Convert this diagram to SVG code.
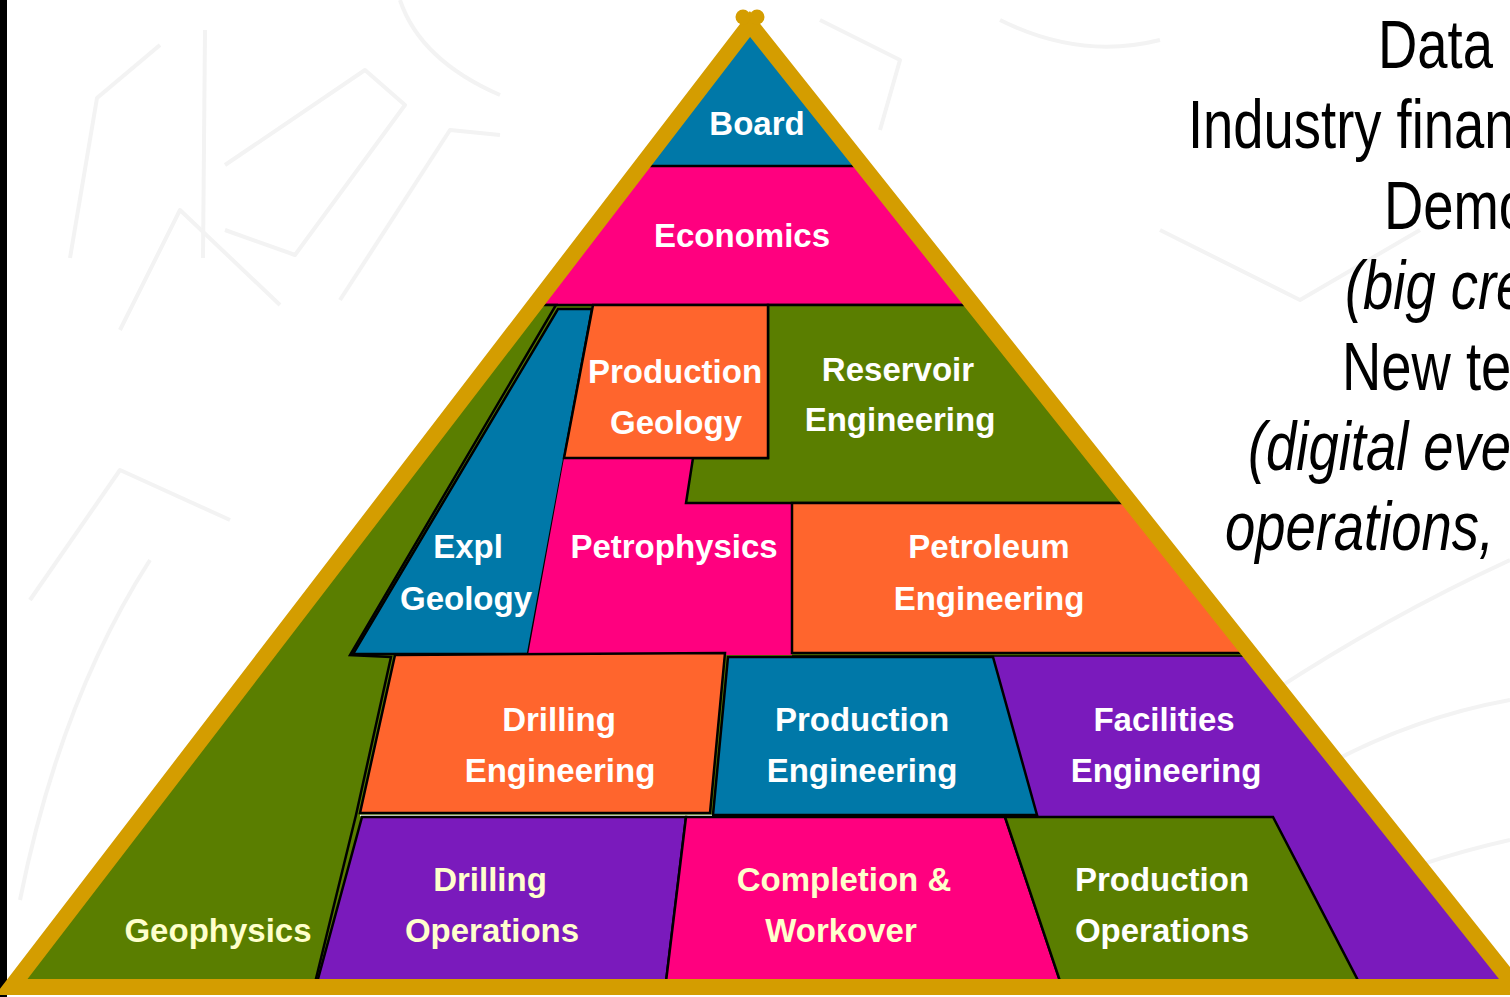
<svg xmlns="http://www.w3.org/2000/svg" width="1510" height="997" viewBox="0 0 1510 997">
<style>
.lbl{font-family:"Liberation Sans",Arial,sans-serif;font-weight:bold;font-size:33px;text-anchor:middle;fill:#FFFFFF}
.cream{fill:#FFFFCC}
.side{font-family:"Liberation Sans",Arial,sans-serif;font-size:68px;fill:#000000}
.it{font-style:italic}
.blk{stroke:#000000;stroke-width:2.5;stroke-linejoin:miter}
.bg{fill:none;stroke:#F3F3F3;stroke-width:4;stroke-linejoin:round}
.blue{fill:#0078A8}
.pink{fill:#FF007F}
.orange{fill:#FF652D}
.green{fill:#5A7E00}
.purple{fill:#7A1ABC}
</style>
<defs>
<clipPath id="tri"><polygon points="750,24 11.4,987 1515.6,987"/></clipPath>
</defs>
<rect x="0" y="0" width="1510" height="997" fill="#FFFFFF"/>
<g id="watermark">
<path class="bg" d="M70,258 L97,98 L160,45"/>
<path class="bg" d="M203,258 L205,30"/>
<path class="bg" d="M225,165 L365,70 L405,105 L295,255 L225,230"/>
<path class="bg" d="M120,330 L180,210 L280,305"/>
<path class="bg" d="M340,300 L450,130 L500,135"/>
<path class="bg" d="M400,0 Q420,60 500,95"/>
<path class="bg" d="M20,900 Q60,700 150,560"/>
<path class="bg" d="M30,600 L120,470 L230,520"/>
<path class="bg" d="M1000,20 Q1080,60 1160,40"/>
<path class="bg" d="M1160,230 L1300,300 L1420,230"/>
<path class="bg" d="M1260,700 Q1380,620 1510,560"/>
<path class="bg" d="M1300,780 Q1400,720 1510,700"/>
<path class="bg" d="M1330,900 Q1420,860 1510,840"/>
<path class="bg" d="M820,20 L900,60 L880,130"/>
</g>
<rect id="left-bar" x="0" y="0" width="7" height="997" fill="#000000"/>
<g id="pyramid" clip-path="url(#tri)">
<g id="board"><rect class="blue" x="0" y="0" width="1510" height="166"/></g>
<g id="economics"><rect class="pink" x="0" y="166" width="1510" height="139"/></g>
<rect class="green" x="0" y="305" width="1510" height="700"/>
<line class="blk" x1="0" y1="166" x2="1510" y2="166"/>
<line class="blk" x1="0" y1="305" x2="1510" y2="305"/>
<g id="facilities-engineering-shape"><polygon class="purple" points="993,656 1600,656 1600,995 1000,995 1037,816"/></g>
<g id="geophysics-shape"><polygon class="green blk" points="0,305 556,305 350,655 391,657 356,815 312,995 0,995"/></g>
<g id="expl-geology-shape"><polygon class="blue blk" points="558,309 592,309 528,654 353,654"/></g>
<g id="petrophysics-shape"><polygon class="pink" points="564,458 694,458 686,503 792,503 792,655 528,655"/></g>
<g id="reservoir-engineering-shape"><polygon class="green blk" points="768,305 1400,305 1400,503 686,503 693,458 768,458"/></g>
<g id="production-geology-shape"><polygon class="orange blk" points="593,305 768,305 768,458 564,458"/></g>
<g id="petroleum-engineering-shape"><polygon class="orange blk" points="792,503 1400,503 1400,653 792,653"/></g>
<line stroke="#000" stroke-width="1.5" x1="792" y1="656" x2="1400" y2="656"/>
<g id="production-engineering-shape"><polygon class="blue blk" points="728,657 993,657 1037,815 713,815"/></g>
<g id="drilling-engineering-shape"><polygon class="orange blk" points="395,655 725,653 710,813 360,813"/></g>
<line stroke="#FFFFFF" stroke-width="1.5" x1="360" y1="815.5" x2="712" y2="815.5"/>
<g id="drilling-operations-shape"><polygon class="purple blk" points="362,817 686,817 665,990 315,990"/></g>
<g id="completion-workover-shape"><polygon class="pink blk" points="686,817 1005,817 1063,990 665,990"/></g>
<g id="production-operations-shape"><polygon class="green blk" points="1005,817 1273,817 1363,990 1063,990"/></g>
</g>
<g id="frame">
<polygon points="750,24 11.4,987 1515.6,987" fill="none" stroke="#D49D00" stroke-width="16" stroke-linejoin="miter"/>
<circle cx="743" cy="17" r="7.5" fill="#D49D00"/>
<circle cx="757" cy="17" r="7.5" fill="#D49D00"/>
</g>
<g id="labels">
<g id="board-label"><text class="lbl" x="757" y="135">Board</text></g>
<g id="economics-label"><text class="lbl" x="742" y="247">Economics</text></g>
<g id="production-geology"><text class="lbl" x="675" y="383">Production</text><text class="lbl" x="676" y="434">Geology</text></g>
<g id="reservoir-engineering"><text class="lbl" x="898" y="381">Reservoir</text><text class="lbl" x="900" y="431">Engineering</text></g>
<g id="expl-geology"><text class="lbl" x="468" y="558">Expl</text><text class="lbl" x="466" y="610">Geology</text></g>
<g id="petrophysics"><text class="lbl" x="674" y="558">Petrophysics</text></g>
<g id="petroleum-engineering"><text class="lbl" x="989" y="558">Petroleum</text><text class="lbl" x="989" y="610">Engineering</text></g>
<g id="drilling-engineering"><text class="lbl" x="559" y="731">Drilling</text><text class="lbl" x="560" y="782">Engineering</text></g>
<g id="production-engineering"><text class="lbl" x="862" y="731">Production</text><text class="lbl" x="862" y="782">Engineering</text></g>
<g id="facilities-engineering"><text class="lbl" x="1164" y="731">Facilities</text><text class="lbl" x="1166" y="782">Engineering</text></g>
<g id="drilling-operations"><text class="lbl cream" x="490" y="891">Drilling</text><text class="lbl cream" x="492" y="942">Operations</text></g>
<g id="completion-workover"><text class="lbl cream" x="844" y="891">Completion &amp;</text><text class="lbl cream" x="841" y="942">Workover</text></g>
<g id="production-operations"><text class="lbl" x="1162" y="891">Production</text><text class="lbl" x="1162" y="942">Operations</text></g>
<g id="geophysics"><text class="lbl cream" x="218" y="942">Geophysics</text></g>
</g>
<g id="side-text">
<text class="side" transform="translate(1378,68) scale(0.8,1)">Data</text>
<text class="side" transform="translate(1188,148) scale(0.8,1)">Industry finan</text>
<text class="side" transform="translate(1384,229) scale(0.8,1)">Demo</text>
<text class="side it" transform="translate(1345,309) scale(0.8,1)">(big cre</text>
<text class="side" transform="translate(1342,390) scale(0.8,1)">New te</text>
<text class="side it" transform="translate(1248,470) scale(0.8,1)">(digital eve</text>
<text class="side it" transform="translate(1225,550) scale(0.8,1)">operations,</text>
</g>
</svg>
